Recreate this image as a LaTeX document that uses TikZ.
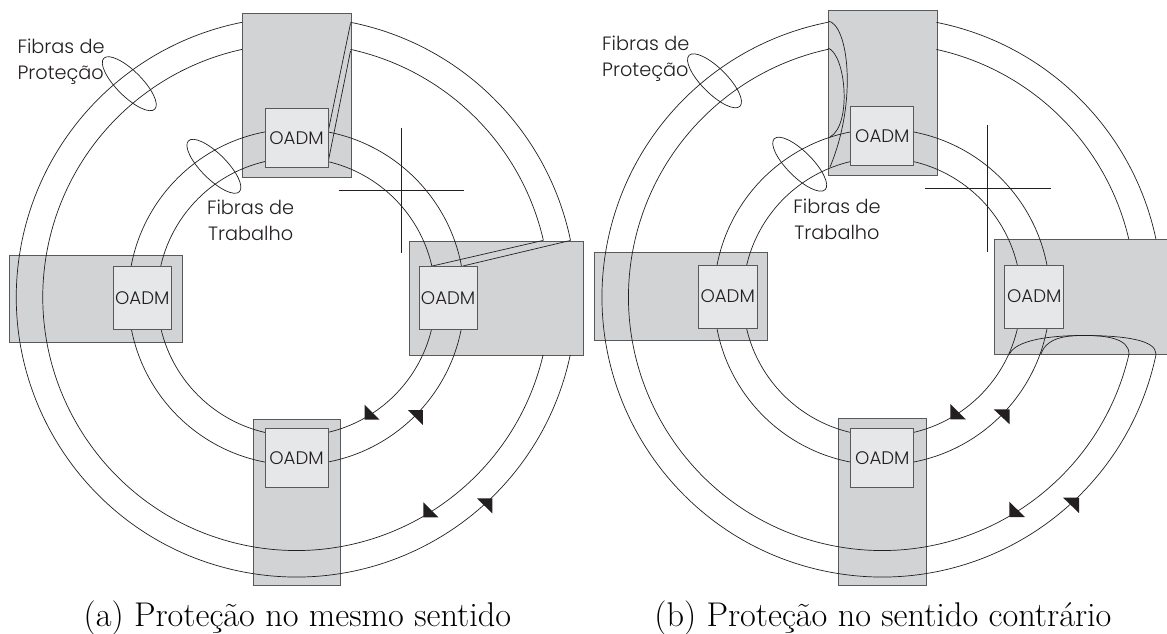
\documentclass[tikz,border=0pt]{standalone}
\usepackage{fontspec}
\newfontfamily\oadmfont{Poppins Light}
\definecolor{linecol}{HTML}{231F20}
\definecolor{edgecol}{HTML}{58595B}
\definecolor{site}{HTML}{D1D3D4}
\definecolor{oadmfill}{HTML}{E6E7E8}
\tikzset{
  every picture/.style={x=1pt,y=-1pt},
  sitebox/.style={draw=edgecol,fill=site,line width=0.9pt,minimum width=#1,inner sep=0pt,anchor=north west},
  oadmbox/.style={draw=edgecol,fill=oadmfill,line width=0.9pt,inner sep=0pt,font=\oadmfont\fontsize{18.2}{20}\selectfont,text=linecol},
  fibre/.style={draw=linecol,line width=0.7pt},
  cross/.style={draw=linecol,line width=0.7pt},
  fibrelabel/.style={font=\oadmfont\fontsize{19.3}{26}\selectfont,text=linecol,inner sep=0pt,align=#1},
  caption/.style={font=\fontsize{34.3}{38}\selectfont,inner sep=0pt,anchor=base},
  tip/.style={fill=linecol,draw=none}
}
% site rectangle: name, x1, y1, x2, y2
\newcommand{\siterect}[5]{\node[sitebox={#4pt-#2pt},minimum height={#5pt-#3pt}] (#1) at (#2,#3) {};}
% OADM box: name, x1, y1, x2, y2
\newcommand{\oadmrect}[5]{\node[oadmbox,minimum width={#4pt-#2pt},minimum height={#5pt-#3pt}] (#1) at ({(#2+#4)/2},{(#3+#5)/2}) {OADM};}
% arc on a circle: centre, radius, start, end, name of its start
\newcommand{\ringarc}[5]{\coordinate (#5) at ($(#1)+({#2*cos(#3)},{#2*sin(#3)})$);\draw[fibre] (#5) arc[start angle=#3,end angle=#4,radius=#2];}
\usetikzlibrary{calc}
\begin{document}
\begin{tikzpicture}
\clip (0,0) rectangle (1167,634);
\fill[white] (0,0) rectangle (1167,634);
% ---------- panel a
\coordinate (ca) at (296.3,297);
\siterect{aT}{242}{13}{350.5}{177}
\siterect{aL}{9.4}{254.5}{182}{341.7}
\siterect{aR}{409}{240.5}{582.7}{355}
\siterect{aB}{252.5}{419}{340.4}{585}
\ringarc{ca}{280}{-78.84}{-11.64}{a1}
\ringarc{ca}{253.5}{-77.65}{-12.88}{a2}
\ringarc{ca}{280}{11.96}{258.8}{a3}
\ringarc{ca}{253.5}{13.23}{257.6}{a4}
\draw[fibre] (ca) circle[radius=168];
\draw[fibre] (ca) circle[radius=139];
\coordinate (la1) at (350.5,23.5); \coordinate (la2) at (328,132.3);
\coordinate (la3) at (350.5,51); \coordinate (la4) at (328,162.7);
\coordinate (la5) at (570.3,240.5); \coordinate (la6) at (462.9,266);
\coordinate (la7) at (542.8,240.5); \coordinate (la8) at (432.3,266);
\draw[fibre] (la1)--(la2) (la3)--(la4) (la5)--(la6) (la7)--(la8);
\oadmrect{aoT}{265}{108.5}{328}{167}
\oadmrect{aoL}{113}{266}{171.5}{329.5}
\oadmrect{aoR}{419}{266}{477.2}{329.5}
\oadmrect{aoB}{265}{428.7}{328}{487}
\coordinate (cav1) at (401.4,127.7); \coordinate (cav2) at (401.4,253);
\coordinate (cah1) at (338.5,190.3); \coordinate (cah2) at (464.4,190.3);
\draw[cross] (cav1)--(cav2) (cah1)--(cah2);
\draw[fibre,rotate around={-45:(129.3,83.7)}] (129.3,83.7) ellipse[x radius=36,y radius=12.7];
\draw[fibre,rotate around={-45:(213.9,166.3)}] (213.9,166.3) ellipse[x radius=36,y radius=12.7];
\node[fibrelabel=left,anchor=north west] (alP) at (17.3,39) {Fibras de\\Proteção};
\node[fibrelabel=center,anchor=north] (alW) at (250.6,200) {Fibras de\\Trabalho};
\fill[tip] (364.5,404.7)--(379.6,419.7)--(364.5,419.7)--cycle;
\fill[tip] (407.8,410)--(422.9,410)--(422.9,425)--cycle;
\fill[tip] (423.3,502.3)--(438.4,517.3)--(423.3,517.3)--cycle;
\fill[tip] (476.8,498.3)--(492.3,498.3)--(492.3,513.3)--cycle;
\node[caption] (capa) at (297.4,626) {(a) Proteção no mesmo sentido};
% ---------- panel b
\coordinate (cb) at (882,297);
\siterect{bT}{828.1}{10.3}{936.5}{175.3}
\siterect{bL}{594.3}{252.3}{767.3}{340}
\siterect{bR}{994.4}{239}{1172}{354}
\siterect{bB}{838.2}{418}{926.1}{585}
\ringarc{cb}{280}{-78.78}{-11.96}{b1}
\ringarc{cb}{253.5}{-77.59}{-13.23}{b2}
\ringarc{cb}{280}{11.75}{258.9}{b3}
\ringarc{cb}{253.5}{13.0}{257.72}{b4}
\draw[fibre] (cb) circle[radius=168];
\draw[fibre] (cb) circle[radius=139];
% loop-backs
\coordinate (lb1) at (828.1,21); \coordinate (lb2) at (830,167);
\coordinate (lb3) at (828.1,48); \coordinate (lb4) at (830,137);
\draw[fibre] (lb1) .. controls (848,24) and (858,100) .. (lb2);
\draw[fibre] (lb3) .. controls (846,55) and (852,125) .. (lb4);
\coordinate (lb5) at (1009.5,354); \coordinate (lb6) at (1156,354);
\coordinate (lb7) at (1041,354); \coordinate (lb8) at (1129,354);
\draw[fibre] (lb5) .. controls (1016,340) and (1050,335.5) .. (1083,335.5) .. controls (1125,335.5) and (1156,340) .. (lb6);
\draw[fibre] (lb7) .. controls (1047,336) and (1070,335.5) .. (1085,335.5) .. controls (1105,335.5) and (1129,338) .. (lb8);
\oadmrect{boT}{850.8}{106.7}{913.9}{165}
\oadmrect{boL}{698.2}{265}{757.2}{328}
\oadmrect{boR}{1004.8}{265}{1063.8}{328}
\oadmrect{boB}{850.8}{428.3}{913.9}{487.3}
\coordinate (cbv1) at (987.7,125); \coordinate (cbv2) at (987.7,251.7);
\coordinate (cbh1) at (924.6,188.3); \coordinate (cbh2) at (1050.5,188.3);
\draw[cross] (cbv1)--(cbv2) (cbh1)--(cbh2);
\draw[fibre,rotate around={-45:(714.5,80.8)}] (714.5,80.8) ellipse[x radius=36,y radius=12.7];
\draw[fibre,rotate around={-45:(799.7,164.2)}] (799.7,164.2) ellipse[x radius=36,y radius=12.7];
\node[fibrelabel=left,anchor=north west] (blP) at (602,36) {Fibras de\\Proteção};
\node[fibrelabel=center,anchor=north] (blW) at (837,199) {Fibras de\\Trabalho};
\fill[tip] (950.3,404)--(965.8,419.3)--(950.3,419.3)--cycle;
\fill[tip] (993.7,409.3)--(1009.6,409.3)--(1009.6,424.3)--cycle;
\fill[tip] (1009.3,501.7)--(1024.9,517)--(1009.3,517)--cycle;
\fill[tip] (1063.1,497.7)--(1079,497.7)--(1079,513)--cycle;
\node[caption] (capb) at (882.9,626) {(b) Proteção no sentido contrário};
\end{tikzpicture}
\end{document}
